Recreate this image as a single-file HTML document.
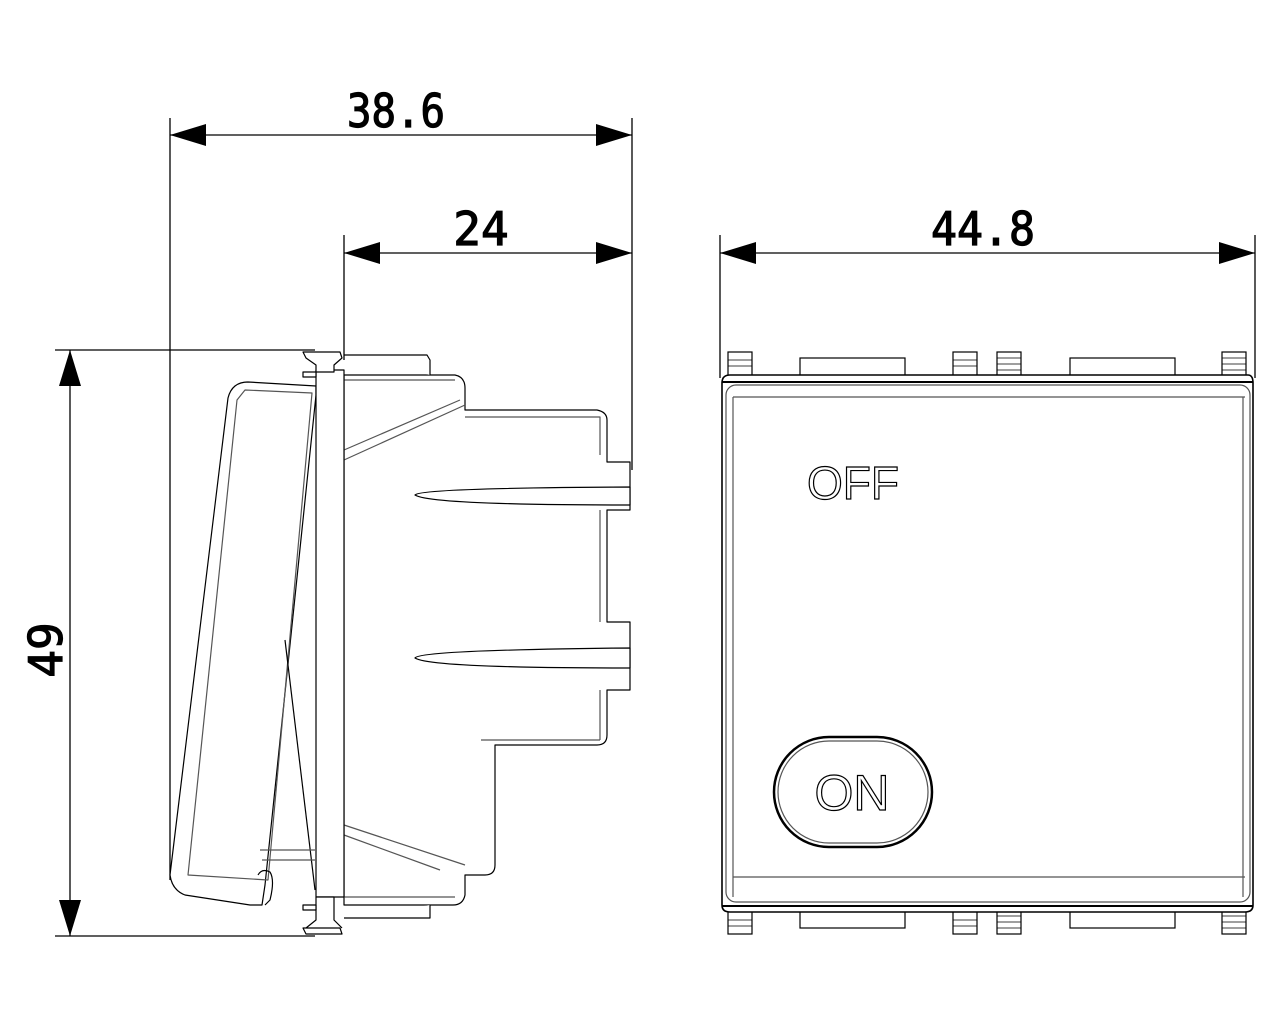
<!DOCTYPE html>
<html><head><meta charset="utf-8"><style>html,body{margin:0;padding:0;background:#fff}svg{display:block}</style></head>
<body>
<svg width="1280" height="1024" viewBox="0 0 1280 1024" xmlns="http://www.w3.org/2000/svg" font-family="'DejaVu Sans Mono','Liberation Mono',monospace">
<g stroke="#000" stroke-width="1.3" fill="none">
<line x1="170" y1="118" x2="170" y2="880"/>
<line x1="632" y1="118" x2="632" y2="470"/>
<line x1="170" y1="135" x2="632" y2="135"/>
<line x1="344" y1="235" x2="344" y2="360"/>
<line x1="344" y1="253" x2="632" y2="253"/>
<line x1="720" y1="235" x2="720" y2="378"/>
<line x1="1255" y1="235" x2="1255" y2="378"/>
<line x1="720" y1="253" x2="1255" y2="253"/>
<line x1="55" y1="350" x2="315" y2="350"/>
<line x1="55" y1="936" x2="315" y2="936"/>
<line x1="70" y1="350" x2="70" y2="936"/>
</g>
<g fill="#000">
<polygon points="170,135 206,124 206,146"/>
<polygon points="632,135 596,124 596,146"/>
<polygon points="344,253 380,242 380,264"/>
<polygon points="632,253 596,242 596,264"/>
<polygon points="720,253 756,242 756,264"/>
<polygon points="1255,253 1219,242 1219,264"/>
<polygon points="70,350 59,386 81,386"/>
<polygon points="70,936 59,900 81,900"/>
</g>
<g font-size="46" text-anchor="middle" fill="#000" stroke="#000" stroke-width="1.2">
<text x="396" y="127" textLength="98" lengthAdjust="spacingAndGlyphs">38.6</text>
<text x="481" y="245">24</text>
<text x="983" y="245" textLength="104" lengthAdjust="spacingAndGlyphs">44.8</text>
<text transform="translate(62,650) rotate(-90)">49</text>
</g>

<g stroke="#000" stroke-width="1.2" fill="#fff" stroke-linejoin="round">
<path d="M344,375 L455,375 Q465,377 465,388 L465,410 L597,410 Q607,412 607,420 L607,462 L630,462 L630,510 L607,510 L607,622 L630,622 L630,690 L607,690 L607,735 Q607,745 597,745 L495,745 L495,865 Q495,875 485,875 L465,875 L465,895 Q463,905 453,905 L344,905 Z"/>
<path d="M344,355 L427,355 L430,360 L430,375 M344,918 L430,918 L430,905" />
<path d="M344,380 L455,380 M465,417 L600,417 L600,455 M344,460 L465,405 M344,450 L460,400" fill="none" stroke="#555"/>
<path d="M344,825 L465,865 M344,835 L440,870 M344,897 L455,897 M481,740 L600,740 M600,740 L600,690 M600,510 L600,622" fill="none" stroke="#555"/>
<path d="M415,495 Q420,488 630,487 L630,505 Q430,505 415,495 Z"/>
<path d="M415,658 Q420,650 630,648 L630,668 Q430,668 415,658 Z"/>
<path d="M248,382 L316,386 L316,395 L265,885 L262,905 L250,905 L185,895 Q172,890 170,875 L228,398 Q232,382 248,382 Z"/>
<path d="M245,390 L312,393 L268,880 L188,875 L237,400 Z" fill="none" stroke="#555"/>
<path d="M285,640 L315,890" fill="none"/>
<path d="M258,875 Q262,868 270,872 Q275,880 270,900 L265,905" fill="none"/>
<path d="M260,850 L315,850 M262,860 L315,860" fill="none" stroke="#555"/>
<rect x="316" y="370" width="28" height="527"/>
<path d="M303,352 L340,352 L342,358 L334,365 L334,372 L316,372 L316,365 L306,358 Z"/>
<path d="M303,928 L340,928 L342,934 L306,934 Z M316,897 L334,897 L334,920 L342,928 M316,897 L316,920 L306,928"/>
<rect x="303" y="372" width="13" height="5"/>
<rect x="303" y="905" width="13" height="5"/>
</g>

<g stroke="#000" stroke-width="1.2" fill="#fff">
<g>
<rect x="728" y="352" width="24" height="26"/><rect x="953" y="352" width="24" height="26"/>
<rect x="997" y="352" width="24" height="26"/><rect x="1222" y="352" width="24" height="26"/>
<rect x="800" y="358" width="105" height="20"/><rect x="1070" y="358" width="105" height="20"/>
<rect x="728" y="908" width="24" height="26"/><rect x="953" y="908" width="24" height="26"/>
<rect x="997" y="908" width="24" height="26"/><rect x="1222" y="908" width="24" height="26"/>
<rect x="800" y="908" width="105" height="20"/><rect x="1070" y="908" width="105" height="20"/>
<path d="M728,360 H752 M728,366 H752 M953,360 H977 M953,366 H977 M997,358 H1021 M997,364 H1021 M997,370 H1021 M1222,358 H1246 M1222,364 H1246 M1222,370 H1246 M728,920 H752 M728,926 H752 M953,920 H977 M953,926 H977 M997,916 H1021 M997,922 H1021 M997,928 H1021 M1222,916 H1246 M1222,922 H1246 M1222,928 H1246" stroke-width="0.8"/>
</g>
<path d="M722,383 Q722,375 730,375 L1248,375 Q1253,375 1253,383 L1253,905 Q1253,912 1245,912 L730,912 Q722,912 722,905 Z" stroke-width="1.6"/>
<line x1="722" y1="382" x2="1253" y2="382" stroke-width="2"/>
<line x1="722" y1="906" x2="1253" y2="906" stroke-width="2"/>
<rect x="726" y="385" width="524" height="517" rx="10" stroke="#555"/>
<line x1="733" y1="397" x2="1245" y2="397" stroke="#555"/>
<line x1="733" y1="877" x2="1245" y2="877" stroke="#555"/>
<line x1="733" y1="397" x2="733" y2="897" stroke="#555"/>
<line x1="1243" y1="397" x2="1243" y2="897" stroke="#555"/>
<rect x="774" y="737" width="158" height="110" rx="55" stroke-width="2.5"/>
<rect x="778" y="741" width="150" height="102" rx="51" stroke="#555"/>
</g>
<g font-family="'Liberation Sans',sans-serif" fill="#fff" stroke="#000" stroke-width="1.2" text-anchor="middle">
<text x="853" y="499" font-size="46">OFF</text>
<text x="852" y="810" font-size="50">ON</text>
</g>
</svg>
</body></html>
